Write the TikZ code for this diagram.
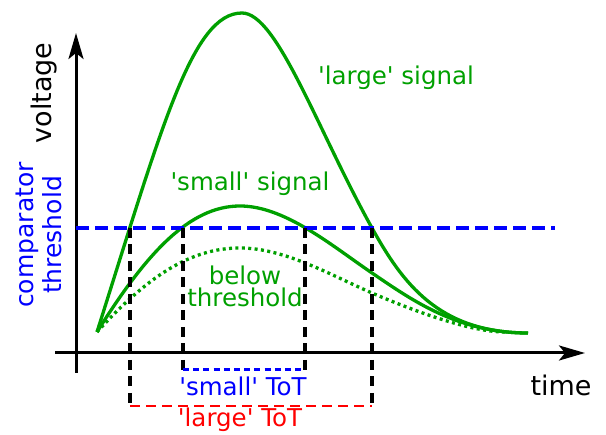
\documentclass[tikz,border=0pt]{standalone}
\usepackage{fontspec}
\setmainfont{DejaVu Sans}[Ligatures=TeXOff]
\usepackage{tikz}
\usetikzlibrary{arrows.meta}

\begin{document}
\begin{tikzpicture}[
  x=1pt, y=-1pt,
  >={Stealth[length=26pt,width=15pt,inset=6pt]},
  axis/.style={->, draw=black, line width=3pt},
  signal/.style={draw=sgreen, line width=3.3pt},
  belowsig/.style={draw=sgreen, line width=3.3pt, dash pattern=on 3pt off 3.4pt},
  thresh/.style={draw=blue, line width=3.2pt, dash pattern=on 12.5pt off 6.5pt},
  marker/.style={draw=black, line width=3.2pt, dash pattern=on 10pt off 6.5pt},
  totsmall/.style={draw=blue, line width=3pt, dash pattern=on 6pt off 4.2pt},
  totlarge/.style={draw=red, line width=2.4pt, dash pattern=on 10pt off 6pt},
  lbl/.style={font=\fontsize{24.5}{22}\selectfont, align=center, inner sep=0pt},
  axlbl/.style={font=\fontsize{27}{28}\selectfont, inner sep=0pt}
]
\definecolor{sgreen}{HTML}{00A000}
\useasboundingbox (0,0) rectangle (606,435);

% axes
\draw[axis] (76,373) -- (76,33);
\draw[axis] (55,353) -- (585,353);
\node[axlbl, rotate=90, anchor=base] (vlabel) at (51,93) {voltage};
\node[axlbl, anchor=base] (tlabel) at (561,396) {time};

% threshold crossings
\coordinate (start) at (97,332);
\coordinate (tail) at (528,333);
\coordinate (lrise) at (130,228);
\coordinate (srise) at (183,228);
\coordinate (sfall) at (305,228);
\coordinate (lfall) at (372,228);

% signals
\draw[signal] (start) .. controls (162,127) and (192,13) .. (242,13)
  .. controls (277,13) and (317,129) .. (lfall)
  .. controls (402,282) and (438,333) .. (tail);
\draw[signal] (start) .. controls (147,252) and (190,206) .. (240,206)
  .. controls (285,206) and (332,245.8) .. (372,273)
  .. controls (412,300.2) and (458,333) .. (tail);
\draw[belowsig] (start) .. controls (147,277) and (190,248) .. (240,248)
  .. controls (285,248) and (332,275.8) .. (372,293)
  .. controls (412,310.2) and (470,332) .. (505,332);

% comparator level
\draw[thresh] (76,228) -- (555,228);

% time over threshold
\draw[marker] (lrise) -- (130,405);
\draw[marker] (srise) -- (183,370);
\draw[marker] (sfall) -- (305,370);
\draw[marker] (lfall) -- (372,405);
\draw[totsmall] (183,370) -- (305,370);
\draw[totlarge] (130,406) -- (372,406);

% labels
\node[lbl, text=sgreen, anchor=base] (large) at (396,85) {'large' signal};
\node[lbl, text=sgreen, anchor=base] (small) at (250,191) {'small' signal};
\node[lbl, text=sgreen, anchor=base] (below) at (245,285) {below};
\node[lbl, text=sgreen, anchor=base] (belowthr) at (245,307) {threshold};
\node[lbl, text=blue, rotate=90, font=\fontsize{25}{28}\selectfont]
  (cthr) at (39,235) {comparator\\threshold};
\node[lbl, text=blue, anchor=base] (stot) at (243,396) {'small' ToT};
\node[lbl, text=red, anchor=base] (ltot) at (240,427) {'large' ToT};
\end{tikzpicture}
\end{document}
